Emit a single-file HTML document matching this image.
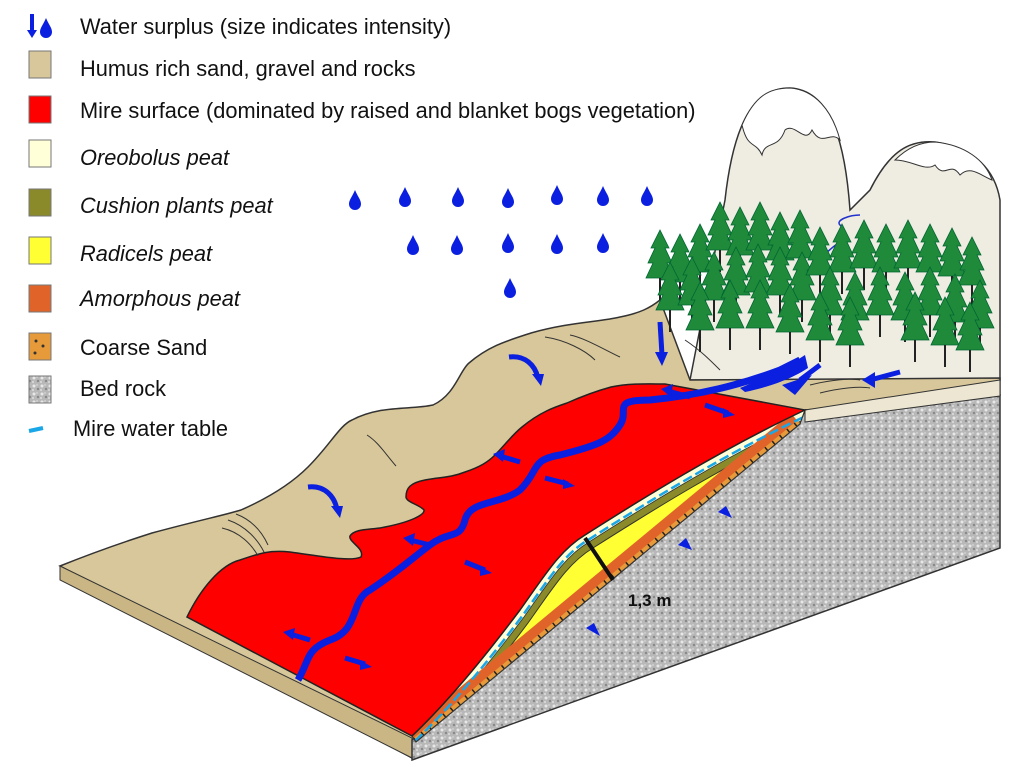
<!DOCTYPE html>
<html><head><meta charset="utf-8"><style>
html,body{margin:0;padding:0;background:#fff;width:1024px;height:767px;overflow:hidden}
svg{display:block;position:absolute;left:0;top:0}
text{font-family:"Liberation Sans",sans-serif;font-size:21.8px;fill:#111}
.i{font-style:italic}
</style></head><body>
<svg width="1024" height="767" viewBox="0 0 1024 767">
<defs>
<pattern id="rock" width="8" height="8" patternUnits="userSpaceOnUse">
<rect width="8" height="8" fill="#b8b8b8"/><circle cx="2" cy="2" r="1.5" fill="#e8e8e8"/><circle cx="6" cy="5" r="1.2" fill="#888"/><circle cx="5" cy="1" r="0.9" fill="#d5d5d5"/><circle cx="1" cy="6" r="1" fill="#ddd"/>
</pattern>
<g id="drop"><path d="M0,-10 C3,-3 6,0 6,4 A6,6 0 0 1 -6,4 C-6,0 -3,-3 0,-10Z" fill="#0a1fe0"/></g>
<g id="tree"><path d="M0,-38 L-9,-20 -5,-20 -12,-5 -7,-5 -14,10 14,10 7,-5 12,-5 5,-20 9,-20Z" fill="#1f8a3a" stroke="#063" stroke-width="0.8"/><rect x="-1" y="10" width="2" height="22" fill="#222"/></g>
<clipPath id="wedge"><path d="M412,736 C450,700 490,650 520,610 C545,575 560,550 585,535 C640,500 720,450 805,410 L800,424 L416,742 Z"/></clipPath>
</defs>

<path d="M32,14 v20" stroke="#0a1fe0" stroke-width="4"/><path d="M27,30 l5,8 5,-8z" fill="#0a1fe0"/>
<use href="#drop" x="46" y="28"/>
<rect x="29" y="51" width="22" height="27" fill="#d8c79a" stroke="#777"/>
<rect x="29" y="96" width="22" height="27" fill="#f00" stroke="#777"/>
<rect x="29" y="140" width="22" height="27" fill="#ffffd8" stroke="#777"/>
<rect x="29" y="189" width="22" height="27" fill="#8a8a2a" stroke="#777"/>
<rect x="29" y="237" width="22" height="27" fill="#ffff33" stroke="#777"/>
<rect x="29" y="285" width="22" height="27" fill="#e0642a" stroke="#777"/>
<rect x="29" y="333" width="22" height="27" fill="#e69a3a" stroke="#777"/>
<circle cx="36" cy="341" r="1.5" fill="#333"/><circle cx="43" cy="346" r="1.5" fill="#333"/><circle cx="35" cy="353" r="1.5" fill="#333"/>
<rect x="29" y="376" width="22" height="27" fill="url(#rock)" stroke="#777"/>
<path d="M29,431 l14,-3" stroke="#1aa7e8" stroke-width="4"/>
<text x="80" y="34">Water surplus (size indicates intensity)</text>
<text x="80" y="76">Humus rich sand, gravel and rocks</text>
<text x="80" y="118">Mire surface (dominated by raised and blanket bogs vegetation)</text>
<text x="80" y="165" class="i">Oreobolus peat</text>
<text x="80" y="213" class="i">Cushion plants peat</text>
<text x="80" y="261" class="i">Radicels peat</text>
<text x="80" y="306" class="i">Amorphous peat</text>
<text x="80" y="355">Coarse Sand</text>
<text x="80" y="396">Bed rock</text>
<text x="73" y="436">Mire water table</text>

<path d="M690,380 L725,200 C735,110 760,88 790,88 C830,90 845,140 850,210 L870,190 C890,150 910,140 935,142 C975,148 995,170 1000,200 L1000,380Z" fill="#efece2" stroke="#333" stroke-width="1.5"/>
<path d="M742,125 C755,95 770,88 790,88 C815,90 832,110 840,140 C830,130 822,148 812,130 C805,145 795,122 785,130 C778,150 765,140 762,155 C755,140 748,150 742,125Z" fill="#fff" stroke="#333"/>
<path d="M895,160 C910,145 925,142 935,142 C965,145 985,160 992,180 C980,175 970,165 960,175 C950,160 945,180 935,165 C925,172 912,160 895,160Z" fill="#fff" stroke="#333"/>
<path d="M820,260 C835,240 855,240 840,225 C835,220 850,215 860,215" stroke="#2233cc" fill="none" stroke-width="1.5"/>

<path d="M60,566 C100,550 130,540 152,533 C200,520 225,515 241,510 C275,495 295,480 308,467 C330,445 340,425 352,420 C380,405 410,410 433,405 C455,395 460,370 469,363 C490,345 510,340 531,333 C570,322 600,322 620,317 C640,313 650,308 660,300 L690,380 L1000,378 L1000,395 L805,410 L412,740 L412,758 Z" fill="#d8c79a" stroke="#333" stroke-width="1.5"/>
<path d="M60,566 L412,738 L412,758 L60,580Z" fill="#c9b684" stroke="#333"/>
<path d="M805,412 L1000,395 L1000,548 L412,760 L412,740Z" fill="url(#rock)" stroke="#333" stroke-width="1.5"/>
<path d="M805,410 L1000,380 L1000,396 L805,422Z" fill="#ece6d2" stroke="#333"/>
<g clip-path="url(#wedge)">
<rect x="400" y="400" width="420" height="360" fill="#ffffd8"/>
<path transform="translate(4,7)" d="M412,736 C450,700 490,650 520,610 C545,575 560,550 585,535 C640,500 720,450 805,410 L900,800 L300,800Z" fill="#8a8a2a" stroke="#333" stroke-width="0.8"/>
<path transform="translate(8,13)" d="M412,736 C450,700 490,650 520,610 C545,575 560,550 585,535 C640,500 720,450 805,410 L900,800 L300,800Z" fill="#ffff33" stroke="#333"/>
<path d="M416,742 L800,424" stroke="#e0642a" stroke-width="28"/>
<path d="M416,742 L800,424" stroke="#e69a3a" stroke-width="9"/>
<path d="M416,742 L800,424" stroke="#222" stroke-width="9" stroke-dasharray="1.5,8" fill="none"/>
<path transform="translate(3,5)" d="M412,736 C450,700 490,650 520,610 C545,575 560,550 585,535 C640,500 720,450 805,410" stroke="#1aa7e8" stroke-width="2.5" fill="none" stroke-dasharray="10,4"/>
</g>
<path d="M412,736 C450,700 490,650 520,610 C545,575 560,550 585,535 C640,500 720,450 805,410 L800,424 L416,742 Z" fill="none" stroke="#333" stroke-width="1.2"/>
<path d="M187,617 C200,590 220,565 240,560 C260,553 270,550 290,552 C320,556 350,562 361,557 C365,548 348,542 350,536 C355,528 372,530 385,527 C410,522 425,515 424,510 C420,505 406,502 406,497 C406,488 410,483 425,480 C440,477 450,478 465,472 C480,467 488,462 495,455 C505,445 512,435 522,427 C540,412 555,407 567,403 C585,395 600,390 611,387 C630,383 650,384 665,384 L805,410 C720,450 640,500 585,535 C560,550 545,575 520,610 C490,650 450,700 412,736 Z" fill="#ff0000" stroke="#222" stroke-width="1.5"/>
<path d="M585,538 L613,580" stroke="#111" stroke-width="4"/>
<text x="628" y="606" style="font-weight:bold;font-size:17px">1,3 m</text>
<path d="M298,680 C310,660 305,650 330,640 C360,630 350,600 370,590 C400,570 410,560 430,545 C450,530 460,540 465,520 C470,500 500,505 520,490 C540,470 530,460 560,455 C600,445 610,440 620,425 C630,410 610,400 650,400 C700,395 740,385 780,370 L800,360" stroke="#0a1fe0" stroke-width="7" fill="none"/>
<path d="M740,388 C760,380 790,365 805,355 L808,368 C790,380 765,388 745,392Z" fill="#0a1fe0"/>
<g stroke="#0a1fe0" stroke-width="5" fill="none">
<path d="M800,380 L820,365"/><path d="M900,372 L870,380"/><path d="M660,322 L662,355"/>
<path d="M310,640 L290,634"/><path d="M345,658 L365,664"/>
<path d="M430,545 L410,540"/><path d="M465,562 L485,570"/>
<path d="M520,462 L500,456"/><path d="M545,478 L568,484"/>
<path d="M690,397 L668,391"/><path d="M705,405 L728,413"/>
<path d="M509,357 C525,355 535,365 538,378"/><path d="M308,487 C325,485 335,497 337,510"/>
</g>
<g fill="#0a1fe0">
<path d="M782,385 L812,375 L795,395Z"/><path d="M862,380 L875,372 L875,388Z"/><path d="M655,352 L668,352 L662,366Z"/>
<path d="M283,632 L295,628 L293,640Z"/><path d="M372,667 L360,660 L360,670Z"/>
<path d="M403,538 L415,533 L413,546Z"/><path d="M492,573 L480,566 L480,576Z"/>
<path d="M493,454 L505,449 L503,462Z"/><path d="M575,486 L563,479 L563,489Z"/>
<path d="M661,389 L673,384 L671,397Z"/><path d="M735,415 L723,408 L723,418Z"/>
<path d="M541,386 L532,374 L544,374Z"/><path d="M340,518 L331,506 L343,506Z"/>
<path d="M718,512 L732,518 L726,506Z"/><path d="M678,545 L692,550 L686,538Z"/><path d="M586,628 L600,636 L594,623Z"/>
</g>
<g stroke="#333" fill="none" stroke-width="1">
<path d="M222,528 C240,532 252,545 258,556"/><path d="M228,520 C246,526 258,540 264,552"/><path d="M236,514 C252,520 262,532 268,545"/>
<path d="M367,435 C378,442 384,452 396,466"/>
<path d="M545,337 C565,340 585,350 595,360"/><path d="M570,335 C585,338 605,350 620,357"/>
<path d="M685,340 C700,350 710,360 720,370"/>
<path d="M810,385 C830,380 850,378 860,380"/><path d="M820,393 C840,388 860,386 870,388"/>
</g>
<g>
<use href="#drop" x="355" y="200"/><use href="#drop" x="405" y="197"/><use href="#drop" x="458" y="197"/><use href="#drop" x="508" y="198"/><use href="#drop" x="557" y="195"/><use href="#drop" x="603" y="196"/><use href="#drop" x="647" y="196"/>
<use href="#drop" x="413" y="245"/><use href="#drop" x="457" y="245"/><use href="#drop" x="508" y="243"/><use href="#drop" x="557" y="244"/><use href="#drop" x="603" y="243"/>
<use href="#drop" x="510" y="288"/>
</g>
<g>
<use href="#tree" x="660" y="268"/><use href="#tree" x="680" y="272"/><use href="#tree" x="700" y="262"/><use href="#tree" x="720" y="240"/><use href="#tree" x="740" y="245"/><use href="#tree" x="760" y="240"/><use href="#tree" x="780" y="250"/><use href="#tree" x="800" y="248"/>
<use href="#tree" x="670" y="300"/><use href="#tree" x="692" y="295"/><use href="#tree" x="714" y="290"/><use href="#tree" x="736" y="285"/><use href="#tree" x="758" y="282"/><use href="#tree" x="780" y="285"/><use href="#tree" x="802" y="290"/>
<use href="#tree" x="820" y="265"/><use href="#tree" x="842" y="262"/><use href="#tree" x="864" y="258"/><use href="#tree" x="886" y="262"/><use href="#tree" x="908" y="258"/><use href="#tree" x="930" y="262"/><use href="#tree" x="952" y="266"/><use href="#tree" x="972" y="275"/>
<use href="#tree" x="700" y="320"/><use href="#tree" x="730" y="318"/><use href="#tree" x="760" y="318"/><use href="#tree" x="790" y="322"/>
<use href="#tree" x="830" y="305"/><use href="#tree" x="855" y="310"/><use href="#tree" x="880" y="305"/><use href="#tree" x="905" y="310"/><use href="#tree" x="930" y="305"/><use href="#tree" x="955" y="312"/><use href="#tree" x="980" y="318"/>
<use href="#tree" x="915" y="330"/><use href="#tree" x="945" y="335"/><use href="#tree" x="970" y="340"/><use href="#tree" x="820" y="330"/><use href="#tree" x="850" y="335"/>
</g>
</svg>
</body></html>
